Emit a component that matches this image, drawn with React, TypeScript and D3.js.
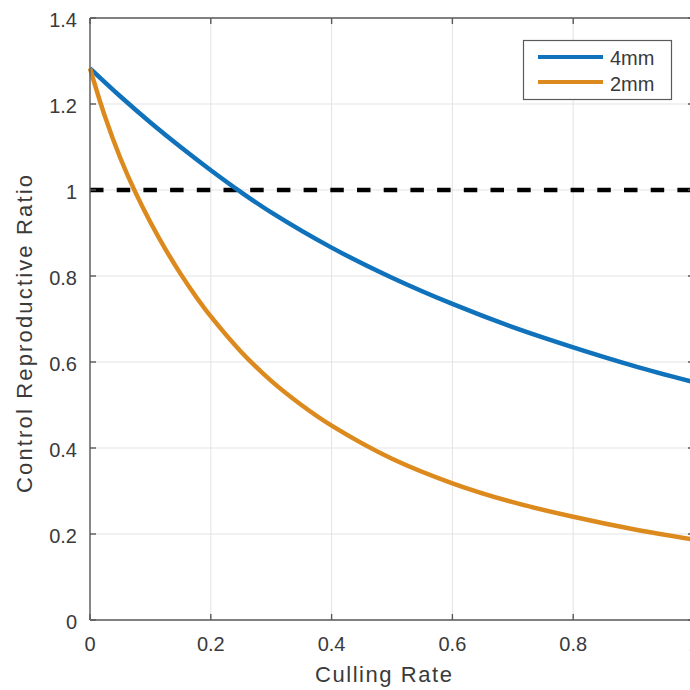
import React from "react";
import * as d3 from "d3";

const xTicks = [0, 0.2, 0.4, 0.6, 0.8, 1];
const yTicks = [0, 0.2, 0.4, 0.6, 0.8, 1, 1.2, 1.4];
const xTickLabels = ["0", "0.2", "0.4", "0.6", "0.8", "1"];
const yTickLabels = ["0", "0.2", "0.4", "0.6", "0.8", "1", "1.2", "1.4"];

const blueX = [0, 0.05, 0.1, 0.15, 0.2, 0.25, 0.3, 0.4, 0.5, 0.6, 0.7, 0.8, 0.9, 1.0];
const blueY = [1.283, 1.218, 1.157, 1.1, 1.046, 0.995, 0.948, 0.866, 0.796, 0.735, 0.681, 0.634, 0.591, 0.553];

const orangeX = [0, 0.025, 0.05, 0.075, 0.1, 0.125, 0.15, 0.175, 0.2, 0.25, 0.3, 0.35, 0.4, 0.5, 0.6, 0.7, 0.8, 0.9, 1.0];
const orangeY = [1.283, 1.17, 1.075, 0.995, 0.925, 0.862, 0.805, 0.753, 0.706, 0.624, 0.556, 0.5, 0.452, 0.375, 0.318, 0.274, 0.24, 0.211, 0.187];

const seriesNames = ["4mm", "2mm"];
const seriesColors = ["#0f72bb", "#dc8a1d"];
const threshold = 1;

const W = 690;
const H = 690;
const L = 90, R = 694, T = 18, B = 620;
const FONT = "'Liberation Sans', Arial, Helvetica, sans-serif";
const TEXT = "#3a3a3a";
const AXIS = "#5a5a5a";

export default function App() {
  const x = d3.scaleLinear().domain([0, 1]).range([L, R]);
  const y = d3.scaleLinear().domain([0, 1.4]).range([B, T]);
  const line = d3
    .line<[number, number]>()
    .x((d) => x(d[0]))
    .y((d) => y(d[1]))
    .curve(d3.curveCatmullRom.alpha(0.5));
  const blue = blueX.map((v, i) => [v, blueY[i]] as [number, number]);
  const orange = orangeX.map((v, i) => [v, orangeY[i]] as [number, number]);

  return (
    <svg
      width={W}
      height={H}
      style={{ position: "absolute", left: 0, top: 0, background: "#fff" }}
      fontFamily={FONT}
    >
      <rect x={0} y={0} width={W} height={H} fill="#fff" />
      {/* grid */}
      {xTicks.map((t) => (
        <line key={"gx" + t} x1={x(t)} x2={x(t)} y1={T} y2={B} stroke="#e3e3e3" strokeWidth={1} />
      ))}
      {yTicks.map((t) => (
        <line key={"gy" + t} x1={L} x2={R} y1={y(t)} y2={y(t)} stroke="#e3e3e3" strokeWidth={1} />
      ))}
      {/* threshold */}
      <line
        x1={x(0)}
        x2={x(1)}
        y1={y(threshold)}
        y2={y(threshold)}
        stroke="#000"
        strokeWidth={4.5}
        strokeDasharray="13.5,13.2"
      />
      {/* curves */}
      <path d={line(blue) || ""} fill="none" stroke={seriesColors[0]} strokeWidth={4.5} strokeLinejoin="round" />
      <path d={line(orange) || ""} fill="none" stroke={seriesColors[1]} strokeWidth={4.5} strokeLinejoin="round" />
      {/* axes box */}
      <line x1={L} x2={L} y1={T} y2={B} stroke={AXIS} strokeWidth={1.4} />
      <line x1={L} x2={R} y1={B} y2={B} stroke={AXIS} strokeWidth={1.4} />
      <line x1={L} x2={R} y1={T} y2={T} stroke={AXIS} strokeWidth={1.4} />
      <line x1={R} x2={R} y1={T} y2={B} stroke={AXIS} strokeWidth={1.4} />
      {/* ticks */}
      {xTicks.map((t) => (
        <g key={"tx" + t}>
          <line x1={x(t)} x2={x(t)} y1={B} y2={B - 6} stroke={AXIS} strokeWidth={1.4} />
          <line x1={x(t)} x2={x(t)} y1={T} y2={T + 6} stroke={AXIS} strokeWidth={1.4} />
        </g>
      ))}
      {yTicks.map((t) => (
        <g key={"ty" + t}>
          <line x1={L} x2={L + 6} y1={y(t)} y2={y(t)} stroke={AXIS} strokeWidth={1.4} />
          <line x1={R} x2={R - 6} y1={y(t)} y2={y(t)} stroke={AXIS} strokeWidth={1.4} />
        </g>
      ))}
      {/* tick labels */}
      {xTicks.map((t, i) => (
        <text key={"lx" + t} x={x(t)} y={651} textAnchor="middle" fontSize={20} fill={TEXT}>
          {xTickLabels[i]}
        </text>
      ))}
      {yTicks.map((t, i) => (
        <text key={"ly" + t} x={77} y={y(t) + 8.5} textAnchor="end" fontSize={20} fill={TEXT}>
          {yTickLabels[i]}
        </text>
      ))}
      {/* axis labels */}
      <text
        x={383.5}
        y={682}
        textAnchor="middle"
        fontSize={22}
        fill={TEXT}
        textLength={137}
        lengthAdjust="spacing"
      >
        Culling Rate
      </text>
      <text
        transform={`translate(32, 334) rotate(-90)`}
        textAnchor="middle"
        fontSize={22}
        fill={TEXT}
        textLength={318}
        lengthAdjust="spacing"
      >
        Control Reproductive Ratio
      </text>
      {/* legend */}
      <rect x={523.5} y={40.5} width={148} height={59} fill="#fff" stroke={AXIS} strokeWidth={1.2} />
      {seriesNames.map((n, i) => (
        <g key={n}>
          <line x1={538} x2={603} y1={57 + i * 25} y2={57 + i * 25} stroke={seriesColors[i]} strokeWidth={4} />
          <text x={610} y={65 + i * 25.5} fontSize={20} fill={TEXT}>
            {n}
          </text>
        </g>
      ))}
    </svg>
  );
}
